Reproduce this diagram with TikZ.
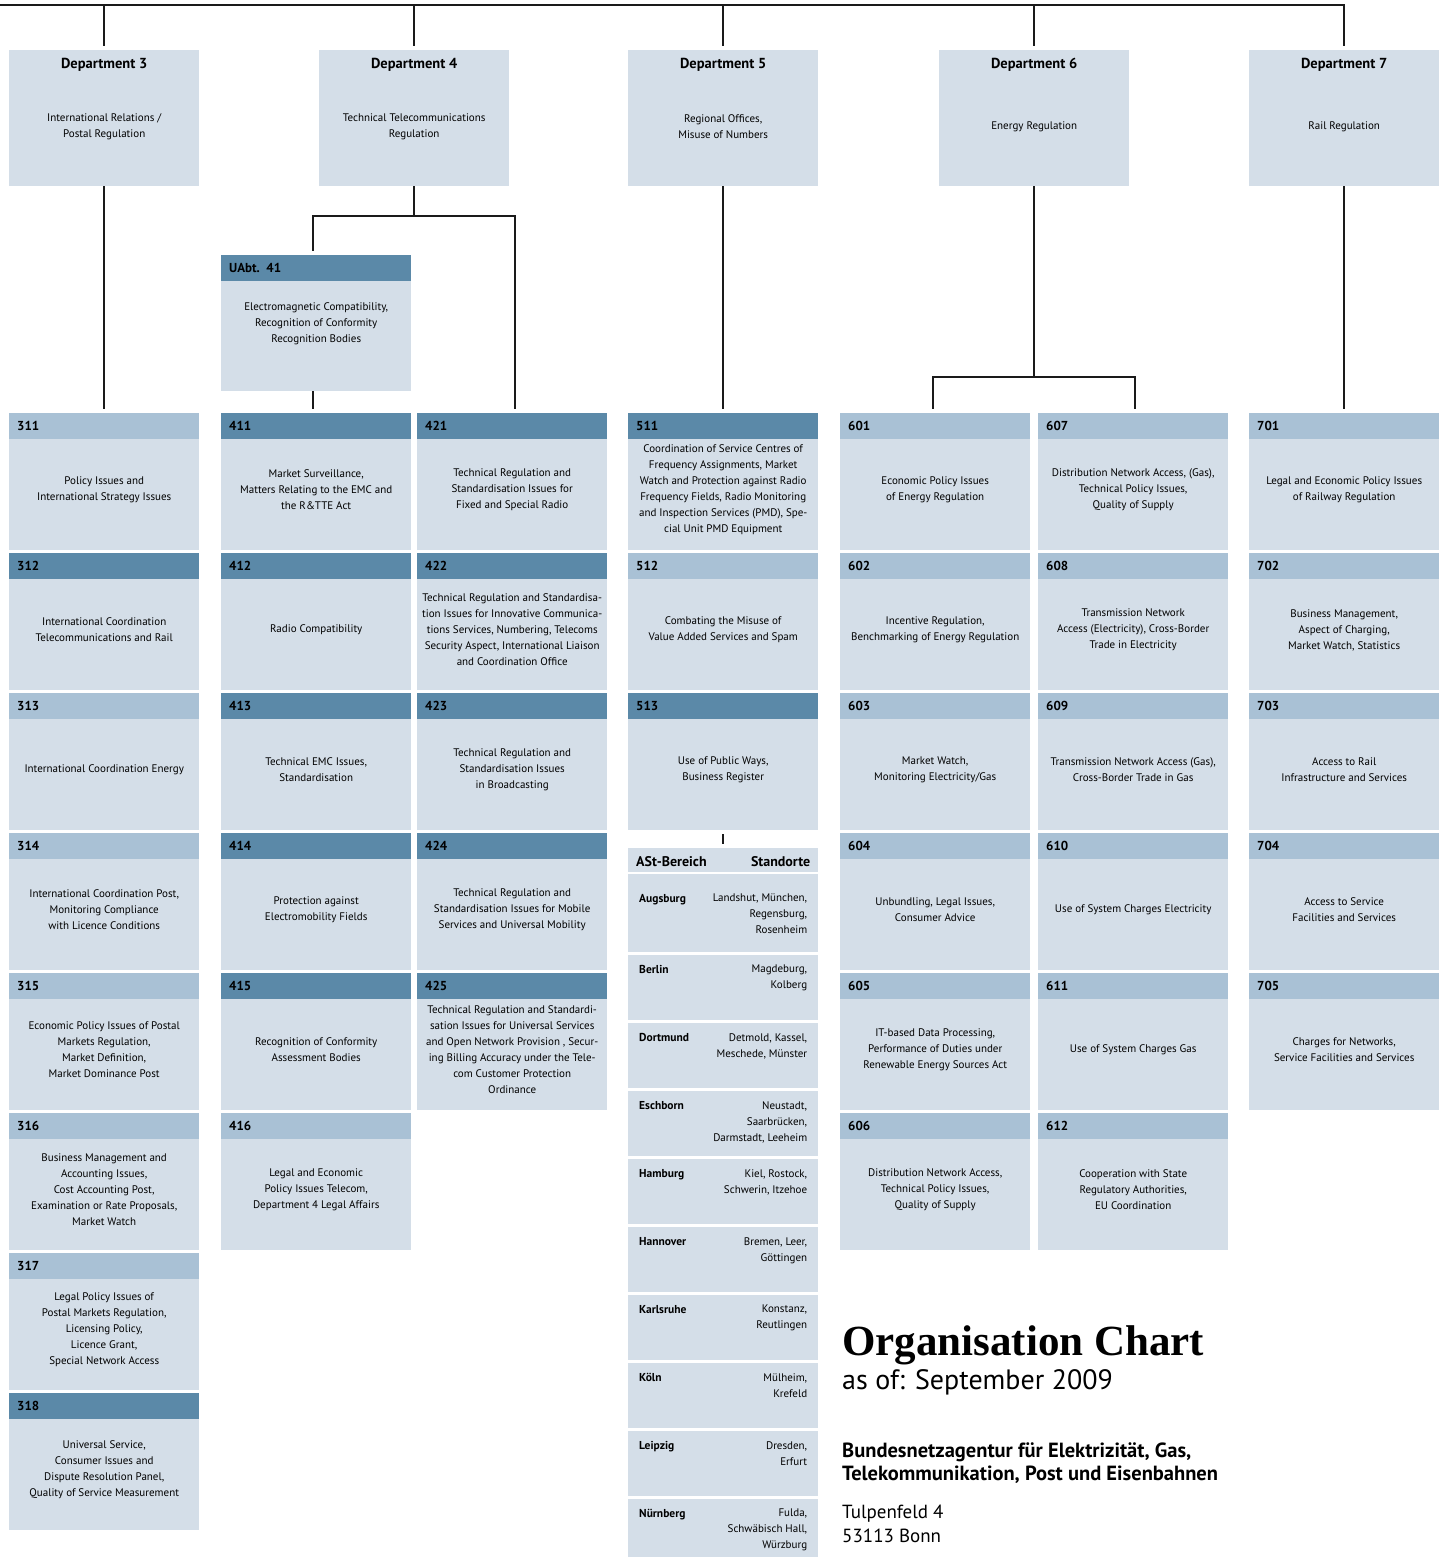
\documentclass[tikz,border=0pt]{standalone}
\usepackage{fontspec}
\setmainfont{PT Sans}
\newfontfamily\titleserif{Liberation Serif}
\usepackage{xcolor}
\usetikzlibrary{positioning}

\definecolor{cellbody}{HTML}{D4DEE8}
\definecolor{headlight}{HTML}{A9C1D5}
\definecolor{headdark}{HTML}{5B89A8}
\definecolor{linkgray}{HTML}{1A1A1A}

\tikzset{
    % Department boxes
    dept box/.style={rectangle, fill=cellbody, minimum width=190, minimum height=136,
                     inner sep=0pt, anchor=north west},
    dept title/.style={font=\fontsize{14.5}{17}\selectfont\bfseries, inner sep=0pt},
    % Unit boxes
    unit/.style={rectangle, fill=cellbody, minimum width=190, minimum height=137,
                 inner sep=0pt, anchor=north west},
    unit head/.style={rectangle, fill=#1, minimum width=190, minimum height=26,
                      inner sep=0pt, anchor=north west, text width=174, align=left,
                      font=\fontsize{13}{15}\selectfont\bfseries},
    body text/.style={font=\fontsize{11}{16}\selectfont, align=center, inner sep=0pt},
    % Regional offices table
    office row/.style={rectangle, fill=cellbody, minimum width=190, inner sep=0pt,
                       anchor=north west},
    office head/.style={font=\fontsize{14}{16}\selectfont\bfseries, inner sep=0pt},
    office city/.style={font=\fontsize{11.5}{16}\selectfont\bfseries, inner sep=0pt,
                        anchor=north west},
    office places/.style={font=\fontsize{11}{16}\selectfont, align=right, inner sep=0pt,
                          anchor=north east},
    % Connectors
    link/.style={draw=linkgray, line width=2pt, shorten >=4pt},
}

% name, left, title, description
\newcommand{\deptbox}[4]{%
    \node[dept box] (#1) at (#2,50) {};
    \node[dept title, below=8pt of #1.north] {#3};
    \node[body text] at ([yshift=-77pt]#1.north) {#4};
}
% name, left, top, header colour, number, text
\newcommand{\unitbox}[6]{%
    \node[unit] (#1) at (#2,#3) {};
    \node[unit head=#4] (#1-head) at (#1.north west) {#5};
    \node[body text] at ([yshift=-77pt]#1.north) {#6};
}

\begin{document}
\begin{tikzpicture}[x=1pt, y=-1pt]
    \useasboundingbox (0,0) rectangle (1443,1557);

    % Departments
    \deptbox{d3}{9}{Department 3}{International Relations /\\Postal Regulation}
    \deptbox{d4}{319}{Department 4}{Technical Telecommunications\\Regulation}
    \deptbox{d5}{628}{Department 5}{Regional Offices,\\Misuse of Numbers}
    \deptbox{d6}{939}{Department 6}{Energy Regulation}
    \deptbox{d7}{1249}{Department 7}{Rail Regulation}

    % Department 3
    \unitbox{u311}{9}{413}{headlight}{311}{Policy Issues and\\International Strategy Issues}
    \unitbox{u312}{9}{553}{headdark}{312}{International Coordination\\Telecommunications and Rail}
    \unitbox{u313}{9}{693}{headlight}{313}{International Coordination Energy}
    \unitbox{u314}{9}{833}{headlight}{314}{International Coordination Post,\\Monitoring Compliance\\with Licence Conditions}
    \unitbox{u315}{9}{973}{headlight}{315}{Economic Policy Issues of Postal\\Markets Regulation,\\Market Definition,\\Market Dominance Post}
    \unitbox{u316}{9}{1113}{headlight}{316}{Business Management and\\Accounting Issues,\\Cost Accounting Post,\\Examination or Rate Proposals,\\Market Watch}
    \unitbox{u317}{9}{1253}{headlight}{317}{Legal Policy Issues of\\Postal Markets Regulation,\\Licensing Policy,\\Licence Grant,\\Special Network Access}
    \unitbox{u318}{9}{1393}{headdark}{318}{Universal Service,\\Consumer Issues and\\Dispute Resolution Panel,\\Quality of Service Measurement}

    % Department 4
    \node[unit, minimum height=136] (ua41) at (221,255) {};
    \node[unit head=headdark] (ua41-head) at (ua41.north west) {UAbt. 41};
    \node[body text] at ([yshift=-69pt]ua41.north) {Electromagnetic Compatibility,\\Recognition of Conformity\\Recognition Bodies};

    \unitbox{u411}{221}{413}{headdark}{411}{Market Surveillance,\\Matters Relating to the EMC and\\the R\&TTE Act}
    \unitbox{u412}{221}{553}{headdark}{412}{Radio Compatibility}
    \unitbox{u413}{221}{693}{headdark}{413}{Technical EMC Issues,\\Standardisation}
    \unitbox{u414}{221}{833}{headdark}{414}{Protection against\\Electromobility Fields}
    \unitbox{u415}{221}{973}{headdark}{415}{Recognition of Conformity\\Assessment Bodies}
    \unitbox{u416}{221}{1113}{headlight}{416}{Legal and Economic\\Policy Issues Telecom,\\Department 4 Legal Affairs}

    \unitbox{u421}{417}{413}{headdark}{421}{Technical Regulation and\\Standardisation Issues for\\Fixed and Special Radio}
    \unitbox{u422}{417}{553}{headdark}{422}{Technical Regulation and Standardisa-\\tion Issues for Innovative Communica-\\tions Services, Numbering, Telecoms\\Security Aspect, International Liaison\\and Coordination Office}
    \unitbox{u423}{417}{693}{headdark}{423}{Technical Regulation and\\Standardisation Issues\\in Broadcasting}
    \unitbox{u424}{417}{833}{headdark}{424}{Technical Regulation and\\Standardisation Issues for Mobile\\Services and Universal Mobility}
    \unitbox{u425}{417}{973}{headdark}{425}{Technical Regulation and Standardi-\\sation Issues for Universal Services\\and Open Network Provision , Secur-\\ing Billing Accuracy under the Tele-\\com Customer Protection\\Ordinance}

    % Department 5
    \unitbox{u511}{628}{413}{headdark}{511}{Coordination of Service Centres of\\Frequency Assignments, Market\\Watch and Protection against Radio\\Frequency Fields, Radio Monitoring\\and Inspection Services (PMD), Spe-\\cial Unit PMD Equipment}
    \unitbox{u512}{628}{553}{headlight}{512}{Combating the Misuse of\\Value Added Services and Spam}
    \unitbox{u513}{628}{693}{headdark}{513}{Use of Public Ways,\\Business Register}

    % Regional offices
    \node[office row, minimum height=24] (ast) at (628,848) {};
    \node[office head, anchor=west] at ([xshift=8pt, yshift=-1pt]ast.west) {ASt-Bereich};
    \node[office head, anchor=east] at ([xshift=-8pt, yshift=-1pt]ast.east) {Standorte};

    \foreach \top/\hgt/\dy/\city/\places [count=\i] in {
        874/78/20/Augsburg/{Landshut, München,\\Regensburg,\\Rosenheim},
        955/65/10/Berlin/{Magdeburg,\\Kolberg},
        1023/65/10/Dortmund/{Detmold, Kassel,\\Meschede, Münster},
        1091/65/10/Eschborn/{Neustadt,\\Saarbrücken,\\Darmstadt, Leeheim},
        1159/65/10/Hamburg/{Kiel, Rostock,\\Schwerin, Itzehoe},
        1227/65/10/Hannover/{Bremen, Leer,\\Göttingen},
        1295/65/10/Karlsruhe/{Konstanz,\\Reutlingen},
        1363/65/10/Köln/{Mülheim,\\Krefeld},
        1431/65/10/Leipzig/{Dresden,\\Erfurt},
        1499/58/10/Nürnberg/{Fulda,\\Schwäbisch Hall,\\Würzburg}}
    {
        \node[office row, minimum height=\hgt] (office\i) at (628,\top) {};
        \node[office city] at ([xshift=11pt, yshift=-\dy pt]office\i.north west) {\city};
        \node[office places] at ([xshift=-11pt, yshift=-\dy pt]office\i.north east) {\places};
    }

    % Department 6
    \unitbox{u601}{840}{413}{headlight}{601}{Economic Policy Issues\\of Energy Regulation}
    \unitbox{u602}{840}{553}{headlight}{602}{Incentive Regulation,\\Benchmarking of Energy Regulation}
    \unitbox{u603}{840}{693}{headlight}{603}{Market Watch,\\Monitoring Electricity/Gas}
    \unitbox{u604}{840}{833}{headlight}{604}{Unbundling, Legal Issues,\\Consumer Advice}
    \unitbox{u605}{840}{973}{headlight}{605}{IT-based Data Processing,\\Performance of Duties under\\Renewable Energy Sources Act}
    \unitbox{u606}{840}{1113}{headlight}{606}{Distribution Network Access,\\Technical Policy Issues,\\Quality of Supply}

    \unitbox{u607}{1038}{413}{headlight}{607}{Distribution Network Access, (Gas),\\Technical Policy Issues,\\Quality of Supply}
    \unitbox{u608}{1038}{553}{headlight}{608}{Transmission Network\\Access (Electricity), Cross-Border\\Trade in Electricity}
    \unitbox{u609}{1038}{693}{headlight}{609}{Transmission Network Access (Gas),\\Cross-Border Trade in Gas}
    \unitbox{u610}{1038}{833}{headlight}{610}{Use of System Charges Electricity}
    \unitbox{u611}{1038}{973}{headlight}{611}{Use of System Charges Gas}
    \unitbox{u612}{1038}{1113}{headlight}{612}{Cooperation with State\\Regulatory Authorities,\\EU Coordination}

    % Department 7
    \unitbox{u701}{1249}{413}{headlight}{701}{Legal and Economic Policy Issues\\of Railway Regulation}
    \unitbox{u702}{1249}{553}{headlight}{702}{Business Management,\\Aspect of Charging,\\Market Watch, Statistics}
    \unitbox{u703}{1249}{693}{headlight}{703}{Access to Rail\\Infrastructure and Services}
    \unitbox{u704}{1249}{833}{headlight}{704}{Access to Service\\Facilities and Services}
    \unitbox{u705}{1249}{973}{headlight}{705}{Charges for Networks,\\Service Facilities and Services}

    % Connectors
    \coordinate (bus) at (0,5);
    \draw[link] (bus) -| (d7.north);
    \foreach \d in {d3,d4,d5,d6}
        \draw[link] (\d.north |- bus) -- (\d.north);

    \draw[link] (d3.south) -- (u311.north);
    \draw[link] (d5.south) -- (u511.north);
    \draw[link] (d7.south) -- (u701.north);

    \coordinate (j4) at ([yshift=-30pt]d4.south);
    \draw[link, shorten >=0pt] (d4.south) -- (j4);
    \draw[link] (j4) -| ([xshift=-3pt]ua41.north);
    \draw[link] (j4) -| ([xshift=3pt]u421.north);
    \draw[link] ([xshift=-3pt]ua41.south) -- ([xshift=-3pt]u411.north);

    \coordinate (j6) at ([yshift=-191pt]d6.south);
    \draw[link, shorten >=0pt] (d6.south) -- (j6);
    \draw[link] (j6) -| ([xshift=-2pt]u601.north);
    \draw[link] (j6) -| ([xshift=2pt]u607.north);

    \draw[link, shorten <=4pt] (u513.south) -- (ast.north);

    % Title and address
    \node[anchor=base west, inner sep=0pt, font=\titleserif\fontsize{43}{46}\selectfont\bfseries] (title) at (842,1355) {Organisation Chart};
    \node[anchor=base west, inner sep=0pt, font=\fontsize{28}{30}\selectfont] (asof) at (842,1389) {as of: September 2009};
    \node[anchor=north west, inner sep=0pt, align=left, font=\fontsize{20.5}{24}\selectfont\bfseries] (agency) at (842,1442) {Bundesnetzagentur für Elektrizität, Gas,\\Telekommunikation, Post und Eisenbahnen};
    \node[anchor=north west, inner sep=0pt, align=left, font=\fontsize{19}{24}\selectfont] (address) at (842,1505) {Tulpenfeld 4\\53113 Bonn};
\end{tikzpicture}
\end{document}
